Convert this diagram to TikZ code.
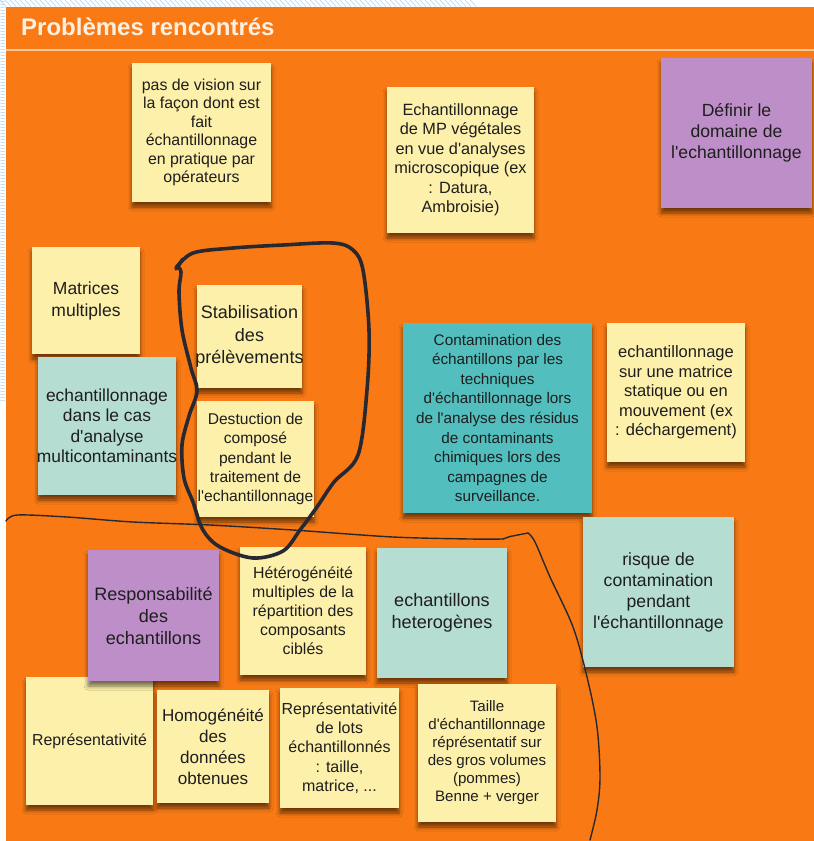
\documentclass[tikz,border=0pt]{standalone}
\usepackage{fontspec}
\setmainfont{Liberation Sans}[Ligatures=TeXOff]
\usetikzlibrary{shadows.blur}
\definecolor{bgorange}{RGB}{249,122,20}
\definecolor{noteyel}{RGB}{253,240,170}
\definecolor{noteteal}{RGB}{182,221,210}
\definecolor{notedark}{RGB}{82,190,190}
\definecolor{notepurp}{RGB}{190,142,200}
\definecolor{ink}{RGB}{30,30,30}
\definecolor{stripecol}{RGB}{165,208,236}
\definecolor{titlecol}{RGB}{253,240,225}
\definecolor{sepcol}{RGB}{250,200,150}
\definecolor{pencol}{RGB}{40,40,48}
\begin{document}
\begin{tikzpicture}[x=1pt,y=-1pt,
  note/.style={rectangle, inner sep=0pt, align=center, text=ink,
    blur shadow={shadow xshift=0pt, shadow yshift=-5pt, shadow blur radius=4pt, shadow opacity=55}},
  yel/.style={note, fill=noteyel},
  teal/.style={note, fill=noteteal},
  dteal/.style={note, fill=notedark},
  purp/.style={note, fill=notepurp},
  box/.style 2 args={minimum width=#1pt, minimum height=#2pt},
  fsz/.style 2 args={font=\fontsize{#1}{#2}\selectfont},
  stripeline/.style={stripecol, line width=0.5pt},
  thickpen/.style={pencol, line width=3.6pt, line cap=round, line join=round},
  thinpen/.style={pencol, line width=1.4pt, line cap=round, line join=round}
]
\useasboundingbox (0,0) rectangle (814,841);
\fill[white] (0,0) rectangle (814,841);
% decorative striped margin
\foreach \yy in {1,4,...,400} \draw[stripeline] (0,\yy) -- (5.5,\yy+1);
\foreach \xx in {0,5,...,470} \draw[stripeline] (\xx,0) -- (\xx+6,6.5);
% board
\fill[bgorange] (6,7) rectangle (814,841);
\node[anchor=base west, inner sep=0pt, text=titlecol, font=\fontsize{24}{28}\selectfont\bfseries] (title) at (21,35) {Problèmes rencontrés};
\coordinate (sepL) at (6,50);
\coordinate (sepR) at (814,50);
\draw[sepcol, line width=1.2pt] (sepL) -- (sepR);

% notes
\node[yel, box={139}{139}, fsz={15.9}{18.5}] (n1) at (201.5,132.5)
  {pas de vision sur\\la façon dont est\\fait\\échantillonnage\\en pratique par\\opérateurs};
\node[yel, box={147}{146}, fsz={16.3}{19.5}] (n2) at (460.5,160)
  {Echantillonnage\\de MP végétales\\en vue d'analyses\\microscopique (ex\\: Datura,\\Ambroisie)};
\node[purp, box={151}{150}, fsz={17.6}{21}] (n3) at (736.5,133)
  {Définir le\\domaine de\\l'echantillonnage};
\node[yel, box={108}{107}, fsz={17.5}{22}] (n4) at (86,300.5)
  {Matrices\\multiples};
\node[teal, box={138}{138}, fsz={17.4}{20.5}] (n5) at (107,426)
  {echantillonnage\\dans le cas\\d'analyse\\\makebox[0pt]{multicontaminants}};
\node[yel, box={105}{103}, fsz={18}{22.5}] (n6) at (249.5,336.5)
  {Stabilisation\\des\\\makebox[0pt]{prélèvements}};
\node[yel, box={117}{116}, fsz={15.6}{19.3}] (n7) at (255.5,459)
  {Destuction de\\composé\\pendant le\\traitement de\\\makebox[0pt]{l'echantillonnage}};
\node[dteal, box={189}{190}, fsz={15.3}{19.6}] (n8) at (497.5,418)
  {Contamination des\\échantillons par les\\techniques\\d'échantillonnage lors\\de l'analyse des résidus\\de contaminants\\chimiques lors des\\campagnes de\\surveillance.};
\node[yel, box={138}{139}, fsz={16.5}{19.5}] (n9) at (676,392.5)
  {echantillonnage\\sur une matrice\\statique ou en\\mouvement (ex\\: déchargement)};
\node[teal, box={151}{150}, fsz={17.6}{21}] (n10) at (658.5,592)
  {risque de\\contamination\\pendant\\l'échantillonnage};
\node[teal, box={130}{130}, fsz={18.1}{21.7}] (n11) at (442,613)
  {echantillons\\heterogènes};
\node[yel, box={138}{138}, fsz={15.1}{18}] (n12) at (487,753)
  {Taille\\d'échantillonnage\\réprésentatif sur\\des gros volumes\\(pommes)\\Benne + verger};
\node[yel, box={127}{128}, fsz={15.9}{19}] (n15) at (89.5,741)
  {Représentativité};
\node[purp, box={131}{131}, fsz={18}{22}] (n13) at (153.5,615.5)
  {Responsabilité\\des\\echantillons};
\node[yel, box={126}{128}, fsz={15.9}{19}] (n14) at (303,611)
  {Hétérogénéité\\multiples de la\\répartition des\\composants\\ciblés};
\node[yel, box={112}{113}, fsz={17.1}{21}] (n16) at (213,746.5)
  {Homogénéité\\des\\données\\obtenues};
\node[yel, box={119}{120}, fsz={16}{19.3}] (n17) at (339.5,748)
  {Représentativité\\de lots\\échantillonnés\\: taille,\\matrice, ...};

% hand-drawn loop around the two notes
\draw[thickpen] plot[smooth, tension=0.55] coordinates {
  (176,268) (193,253) (233,248) (283,245) (333,243) (353,250) (363,270)
  (369,330) (367,390) (358,455) (334,482) (317,507) (300,530) (283,551)
  (253,558) (220,547) (203,530) (193,502) (184,478) (182,445) (189,416)
  (197,391) (191,368) (182,330) (179,292) (181,272) (177,266)};
\draw[thickpen] (176,269) -- (183,259);

% thin hand-drawn line
\draw[thinpen] plot[smooth, tension=0.5] coordinates {
  (6,521) (17,515) (67,517) (133,522) (210,525) (293,530) (393,537)
  (470,539) (503,539)};
\draw[thinpen] (503,539) -- (510,536.5) -- (528,533);
\draw[thinpen] plot[smooth, tension=0.55] coordinates {
  (528,533) (535,542) (550,577) (573,627) (587,677) (597,727) (600,777)
  (597,810) (590,840)};
\end{tikzpicture}
\end{document}
